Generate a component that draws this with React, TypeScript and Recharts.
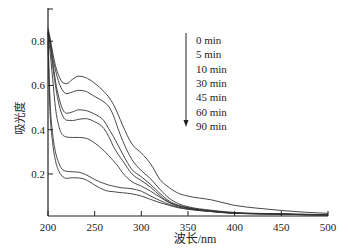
import { LineChart, Line, XAxis, YAxis, Legend } from 'recharts'

const wavelength = [200, 202, 205, 208, 212, 216, 220, 226, 233, 240, 250, 260, 265, 270, 275, 280, 290, 300, 310, 320, 330, 340, 350, 375, 400, 425, 450, 475, 500]

const min0 = [0.86, 0.82, 0.75, 0.69, 0.64, 0.612, 0.608, 0.627, 0.642, 0.636, 0.61, 0.572, 0.548, 0.515, 0.47, 0.42, 0.335, 0.295, 0.245, 0.175, 0.138, 0.112, 0.1, 0.083, 0.058, 0.045, 0.035, 0.027, 0.022]
const min5 = [0.85, 0.81, 0.73, 0.67, 0.61, 0.575, 0.563, 0.57, 0.578, 0.574, 0.55, 0.525, 0.505, 0.465, 0.405, 0.35, 0.265, 0.215, 0.178, 0.13, 0.09, 0.065, 0.052, 0.036, 0.026, 0.022, 0.02, 0.018, 0.016]
const min10 = [0.845, 0.8, 0.71, 0.62, 0.54, 0.49, 0.474, 0.48, 0.49, 0.487, 0.47, 0.44, 0.405, 0.37, 0.33, 0.29, 0.22, 0.187, 0.152, 0.112, 0.077, 0.058, 0.048, 0.033, 0.024, 0.021, 0.019, 0.017, 0.015]
const min30 = [0.84, 0.79, 0.69, 0.6, 0.51, 0.46, 0.443, 0.441, 0.447, 0.45, 0.436, 0.405, 0.37, 0.325, 0.29, 0.26, 0.2, 0.17, 0.14, 0.102, 0.072, 0.056, 0.046, 0.032, 0.023, 0.02, 0.018, 0.016, 0.015]
const min45 = [0.83, 0.76, 0.63, 0.5, 0.41, 0.375, 0.367, 0.365, 0.365, 0.362, 0.34, 0.305, 0.283, 0.26, 0.235, 0.205, 0.165, 0.145, 0.122, 0.095, 0.07, 0.055, 0.045, 0.031, 0.023, 0.02, 0.018, 0.016, 0.015]
const min60 = [0.84, 0.55, 0.38, 0.3, 0.245, 0.218, 0.212, 0.21, 0.208, 0.198, 0.175, 0.157, 0.15, 0.145, 0.14, 0.137, 0.133, 0.122, 0.1, 0.08, 0.062, 0.05, 0.042, 0.03, 0.022, 0.02, 0.018, 0.016, 0.015]
const min90 = [0.8, 0.5, 0.34, 0.26, 0.21, 0.187, 0.18, 0.183, 0.182, 0.175, 0.15, 0.128, 0.122, 0.12, 0.117, 0.115, 0.11, 0.1, 0.085, 0.07, 0.058, 0.047, 0.04, 0.03, 0.022, 0.02, 0.018, 0.016, 0.015]

const seriesNames = ['0 min', '5 min', '10 min', '30 min', '45 min', '60 min', '90 min']
const seriesValues = [min0, min5, min10, min30, min45, min60, min90]

const xTicks = [200, 250, 300, 350, 400, 450, 500]
const yTicks = [0.2, 0.4, 0.6, 0.8, 0.95]

const data = wavelength.map((w, i) => {
  const row: Record<string, number> = { w }
  seriesNames.forEach((name, k) => {
    row[name] = seriesValues[k][i]
  })
  return row
})

const FONT = "Liberation Serif, Noto Sans CJK SC, serif"
const INK = '#222'

function XTick({ x, y, payload }: any) {
  return (
    <g>
      <line x1={x} y1={y} x2={x} y2={y - 5} stroke={INK} strokeWidth={1} />
      <text x={x} y={y + 15} textAnchor="middle" fontFamily={FONT} fontSize={11} fill={INK}>
        {payload.value}
      </text>
    </g>
  )
}

function YTick({ x, y, payload }: any) {
  const top = payload.value > 0.9
  return (
    <g>
      <line x1={x} y1={y} x2={x + 5} y2={y} stroke={INK} strokeWidth={1} />
      {!top && (
        <text x={x - 3} y={y + 4} textAnchor="end" fontFamily={FONT} fontSize={11} fill={INK}>
          {payload.value.toFixed(1)}
        </text>
      )}
    </g>
  )
}

function ArrowLegend({ payload }: any) {
  const items = [...(payload || [])].sort(
    (a: any, b: any) => seriesNames.indexOf(a.value) - seriesNames.indexOf(b.value),
  )
  return (
    <svg width={80} height={104} style={{ display: 'block' }}>
      <line x1={6} y1={3} x2={6} y2={92} stroke={INK} strokeWidth={1} />
      <path d="M3.5,90 L8.5,90 L6,97 Z" fill={INK} />
      {items.map((p: any, i: number) => (
        <text key={p.value} x={16} y={14 + i * 14.3} fontFamily={FONT} fontSize={11} fill={INK}>
          {p.value}
        </text>
      ))}
    </svg>
  )
}

export default function App() {
  return (
    <div style={{ position: 'absolute', left: 0, top: 0, width: 352, height: 252, background: '#fff' }}>
      <LineChart width={352} height={252} data={data} margin={{ top: 8, right: 24, bottom: 0, left: 0 }}>
        <XAxis
          dataKey="w"
          type="number"
          domain={[200, 500]}
          ticks={xTicks}
          tickSize={0}
          tickMargin={0}
          tickLine={false}
          tick={<XTick />}
          height={36}
          stroke={INK}
          strokeWidth={1.2}
          label={{
            content: () => (
              <text x={195} y={243} textAnchor="middle" fontFamily={FONT} fontSize={12} fill={INK}>
                波长/nm
              </text>
            ),
          }}
        />
        <YAxis
          type="number"
          domain={[0.01, 0.95]}
          ticks={yTicks}
          tickSize={0}
          tickMargin={0}
          tickLine={false}
          tick={<YTick />}
          width={48}
          stroke={INK}
          strokeWidth={1.2}
          allowDataOverflow
          label={{
            content: () => (
              <text
                x={20}
                y={118}
                transform="rotate(-90 20 118)"
                textAnchor="middle"
                dominantBaseline="central"
                fontFamily={FONT}
                fontSize={11}
                fill={INK}
              >
                吸光度
              </text>
            ),
          }}
        />
        <Legend
          layout="vertical"
          align="center"
          verticalAlign="middle"
          content={<ArrowLegend />}
          wrapperStyle={{ left: 180, top: 30, width: 80, height: 104 }}
        />
        {seriesNames.map((name) => (
          <Line
            key={name}
            type="monotone"
            dataKey={name}
            stroke="#333"
            strokeWidth={0.9}
            dot={false}
            isAnimationActive={false}
          />
        ))}
      </LineChart>
    </div>
  )
}
